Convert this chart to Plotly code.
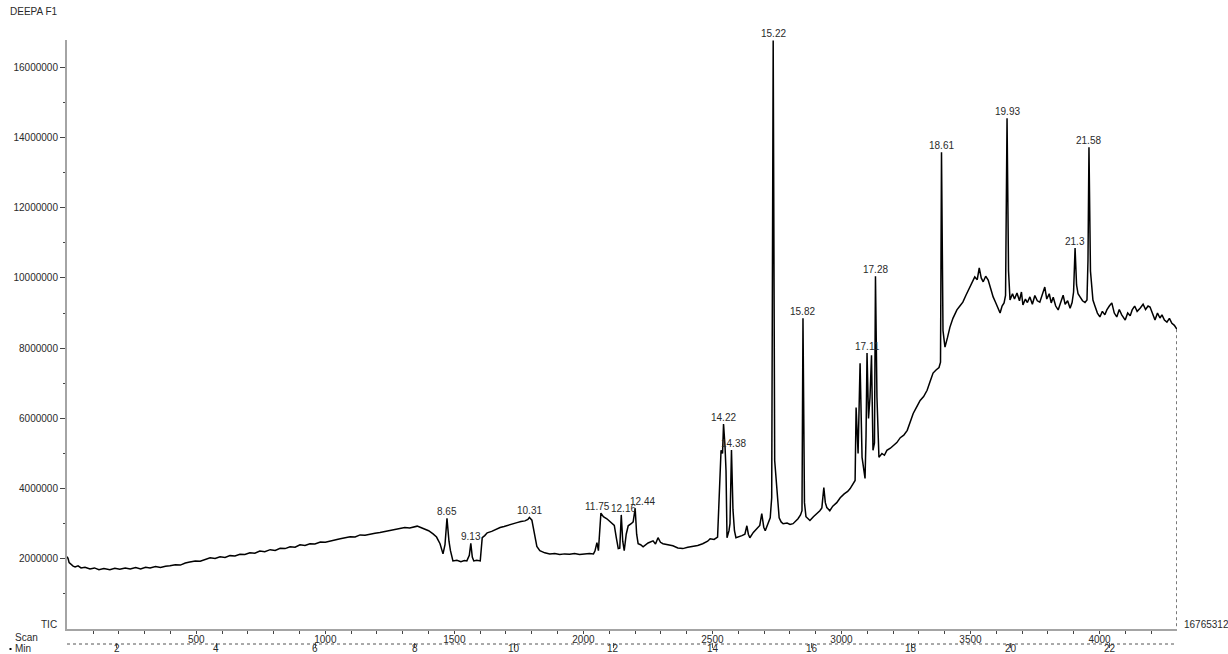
import plotly.graph_objects as go

# Total ion chromatogram of sample DEEPA F1
# retention time (min) and TIC abundance (millions of counts)
ret_time_min = [
    1.00, 1.02, 1.04, 1.08, 1.12, 1.16, 1.22, 1.28, 1.36, 1.46, 1.55, 1.64, 1.74, 1.86, 1.96, 2.06,
    2.17, 2.27, 2.38, 2.48, 2.58, 2.67, 2.78, 2.88, 2.98, 3.07, 3.18, 3.28, 3.38, 3.47, 3.58, 3.68,
    3.78, 3.88, 3.98, 4.08, 4.18, 4.28, 4.38, 4.48, 4.58, 4.68, 4.78, 4.88, 4.98, 5.09, 5.19, 5.29,
    5.39, 5.49, 5.59, 5.69, 5.79, 5.89, 5.99, 6.10, 6.20, 6.30, 6.40, 6.50, 6.60, 6.70, 6.80, 6.90,
    7.00, 7.10, 7.20, 7.30, 7.40, 7.50, 7.60, 7.70, 7.80, 7.90, 7.97, 8.05, 8.11, 8.20, 8.28, 8.37,
    8.44, 8.51, 8.57, 8.61, 8.65, 8.69, 8.72, 8.77, 8.85, 8.93, 9.00, 9.05, 9.10, 9.13, 9.16, 9.19,
    9.25, 9.32, 9.36, 9.41, 9.46, 9.55, 9.63, 9.72, 9.80, 9.88, 9.98, 10.06, 10.14, 10.22, 10.28, 10.31,
    10.36, 10.42, 10.46, 10.52, 10.62, 10.72, 10.82, 10.92, 11.02, 11.12, 11.22, 11.32, 11.42, 11.52, 11.60, 11.63,
    11.67, 11.70, 11.75, 11.80, 11.87, 11.93, 11.97, 12.02, 12.06, 12.10, 12.13, 12.16, 12.19, 12.22, 12.26, 12.30,
    12.36, 12.40, 12.44, 12.47, 12.50, 12.55, 12.60, 12.70, 12.80, 12.85, 12.90, 12.95, 13.00, 13.10, 13.20, 13.30,
    13.40, 13.50, 13.61, 13.70, 13.80, 13.90, 13.95, 14.03, 14.10, 14.13, 14.17, 14.20, 14.22, 14.25, 14.27, 14.29,
    14.33, 14.35, 14.38, 14.41, 14.44, 14.47, 14.53, 14.59, 14.65, 14.69, 14.72, 14.75, 14.82, 14.89, 14.95, 14.99,
    15.03, 15.06, 15.12, 15.16, 15.19, 15.22, 15.25, 15.30, 15.34, 15.38, 15.42, 15.50, 15.56, 15.62, 15.68, 15.72,
    15.77, 15.80, 15.82, 15.85, 15.88, 15.92, 15.96, 16.03, 16.10, 16.16, 16.20, 16.24, 16.27, 16.30, 16.36, 16.42,
    16.50, 16.57, 16.65, 16.72, 16.77, 16.82, 16.87, 16.89, 16.93, 16.97, 17.01, 17.07, 17.09, 17.11, 17.14, 17.17,
    17.20, 17.23, 17.26, 17.28, 17.31, 17.35, 17.41, 17.46, 17.51, 17.58, 17.64, 17.71, 17.78, 17.85, 17.92, 17.98,
    18.04, 18.10, 18.18, 18.25, 18.32, 18.38, 18.44, 18.50, 18.56, 18.59, 18.61, 18.64, 18.68, 18.73, 18.78, 18.84,
    18.92, 18.98, 19.04, 19.10, 19.18, 19.23, 19.28, 19.33, 19.37, 19.41, 19.45, 19.50, 19.55, 19.60, 19.65, 19.70,
    19.75, 19.79, 19.83, 19.87, 19.90, 19.93, 19.96, 19.99, 20.04, 20.08, 20.13, 20.18, 20.22, 20.25, 20.30, 20.34,
    20.39, 20.44, 20.49, 20.54, 20.59, 20.64, 20.69, 20.73, 20.78, 20.82, 20.86, 20.91, 20.96, 21.01, 21.06, 21.10,
    21.15, 21.20, 21.24, 21.27, 21.30, 21.33, 21.36, 21.40, 21.45, 21.50, 21.54, 21.56, 21.58, 21.61, 21.66, 21.70,
    21.75, 21.80, 21.85, 21.90, 21.94, 21.99, 22.04, 22.09, 22.14, 22.19, 22.24, 22.31, 22.36, 22.41, 22.45, 22.50,
    22.55, 22.61, 22.67, 22.72, 22.77, 22.81, 22.86, 22.91, 22.96, 23.01, 23.05, 23.10, 23.15, 23.20, 23.25, 23.30,
    23.35,
]
tic_millions = [
    2.06, 2.00, 1.89, 1.83, 1.79, 1.77, 1.80, 1.74, 1.76, 1.71, 1.74, 1.69, 1.72, 1.69, 1.73, 1.70,
    1.74, 1.71, 1.75, 1.71, 1.76, 1.74, 1.78, 1.75, 1.79, 1.80, 1.83, 1.82, 1.88, 1.91, 1.94, 1.93,
    1.99, 2.03, 2.01, 2.06, 2.04, 2.09, 2.08, 2.13, 2.12, 2.17, 2.16, 2.22, 2.20, 2.26, 2.24, 2.30,
    2.29, 2.34, 2.33, 2.40, 2.38, 2.43, 2.42, 2.48, 2.47, 2.51, 2.55, 2.57, 2.60, 2.63, 2.62, 2.68,
    2.67, 2.71, 2.73, 2.75, 2.78, 2.80, 2.83, 2.86, 2.89, 2.88, 2.91, 2.93, 2.90, 2.84, 2.80, 2.71,
    2.62, 2.43, 2.14, 2.40, 3.15, 2.50, 2.23, 1.94, 1.96, 1.92, 1.95, 1.94, 2.10, 2.44, 2.05, 1.94,
    1.96, 1.94, 2.60, 2.66, 2.74, 2.78, 2.84, 2.89, 2.92, 2.96, 3.00, 3.03, 3.06, 3.08, 3.12, 3.18,
    3.10, 2.60, 2.35, 2.23, 2.17, 2.14, 2.15, 2.12, 2.14, 2.13, 2.15, 2.12, 2.14, 2.15, 2.14, 2.22,
    2.46, 2.23, 3.30, 3.20, 3.14, 3.06, 3.03, 2.95, 2.60, 2.29, 2.30, 3.25, 2.50, 2.23, 2.70, 2.94,
    3.00, 3.05, 3.44, 2.70, 2.43, 2.40, 2.34, 2.45, 2.51, 2.42, 2.60, 2.47, 2.43, 2.40, 2.37, 2.31,
    2.29, 2.33, 2.35, 2.38, 2.43, 2.50, 2.57, 2.55, 2.62, 3.57, 5.09, 5.00, 5.84, 5.20, 4.51, 2.60,
    2.80, 3.00, 5.10, 3.40, 2.80, 2.60, 2.62, 2.66, 2.70, 2.94, 2.70, 2.60, 2.75, 2.86, 2.95, 3.29,
    2.90, 2.80, 3.00, 3.17, 3.74, 16.765312, 4.80, 3.94, 3.17, 3.05, 3.00, 3.02, 2.98, 3.00, 3.08, 3.14,
    3.25, 3.37, 8.85, 3.60, 3.20, 3.15, 3.09, 3.20, 3.28, 3.37, 3.45, 4.03, 3.60, 3.46, 3.37, 3.50,
    3.60, 3.74, 3.85, 3.92, 4.00, 4.10, 4.23, 6.31, 5.00, 7.57, 4.89, 4.29, 5.50, 7.86, 6.00, 6.60,
    7.80, 5.09, 5.30, 10.05, 6.60, 4.89, 5.00, 4.95, 5.09, 5.15, 5.22, 5.31, 5.45, 5.52, 5.66, 5.90,
    6.14, 6.30, 6.51, 6.62, 6.80, 7.05, 7.29, 7.38, 7.45, 7.60, 13.58, 8.50, 8.03, 8.30, 8.60, 8.85,
    9.09, 9.20, 9.31, 9.50, 9.74, 9.85, 10.03, 9.95, 10.29, 10.00, 9.89, 10.05, 9.94, 9.70, 9.46, 9.30,
    9.10, 9.00, 9.20, 9.29, 9.50, 14.55, 10.20, 9.37, 9.55, 9.40, 9.57, 9.35, 9.60, 9.23, 9.40, 9.30,
    9.46, 9.25, 9.50, 9.35, 9.31, 9.55, 9.74, 9.40, 9.55, 9.29, 9.45, 9.20, 9.09, 9.30, 9.51, 9.25,
    9.35, 9.14, 9.30, 9.60, 10.85, 9.80, 9.55, 9.46, 9.35, 9.30, 9.37, 10.50, 13.72, 10.20, 9.37, 9.20,
    9.00, 8.89, 9.05, 8.95, 9.09, 9.20, 9.29, 9.00, 8.89, 9.10, 8.95, 8.80, 9.00, 8.92, 9.09, 9.20,
    9.05, 9.14, 9.25, 9.10, 9.20, 9.17, 9.00, 8.80, 9.00, 8.86, 8.95, 8.80, 8.74, 8.85, 8.71, 8.65,
    8.54,
]

# labelled peaks: retention time (min) and apex abundance (millions)
peak_labels = ["8.65", "9.13", "10.31", "11.75", "12.16", "12.44", "14.22", "14.38", "15.22",
               "15.82", "17.11", "17.28", "18.61", "19.93", "21.3", "21.58"]
peak_time_min = [8.65, 9.13, 10.31, 11.75, 12.16, 12.44, 14.22, 14.38, 15.22,
                 15.82, 17.11, 17.28, 18.61, 19.93, 21.30, 21.58]
peak_apex_millions = [3.15, 2.44, 3.18, 3.30, 3.25, 3.44, 5.84, 5.10, 16.765312,
                      8.85, 7.86, 10.05, 13.58, 14.55, 10.85, 13.72]
# small horizontal nudges (px) for the crowded labels around 12 min
peak_label_dx = [0, 0, 0, -3, 2, 7, 0, 2, 0, 0, 0, 0, 0, 0, 0, 0]

sample_name = "DEEPA F1"
max_abundance = 16765312
y_tick_values = [2000000, 4000000, 6000000, 8000000, 10000000, 12000000, 14000000, 16000000]
scan_tick_values = [500, 1000, 1500, 2000, 2500, 3000, 3500, 4000]
min_tick_values = [2, 4, 6, 8, 10, 12, 14, 16, 18, 20, 22]

# scan number <-> retention time relation of the acquisition
SCANS_PER_MIN = 192.4
SCAN_ZERO_MIN = 1.0025

tic = [v * 1e6 for v in tic_millions]
peak_apex = [v * 1e6 for v in peak_apex_millions]

W, H = 1228, 654
ML, MR, MT, MB = 67, 51, 40, 0
PW = W - ML - MR
PH = H - MT - MB


def px_x(px):
    return (px - ML) / PW


def px_y(py):
    return (H - MB - py) / PH


FONT = "Liberation Sans, Arial, sans-serif"
TXT = "#2a2a2a"
AXIS_GREY = "#a4a4a4"

t_lo, t_hi = 0.997, 23.353
scan_lo = (t_lo - SCAN_ZERO_MIN) * SCANS_PER_MIN
scan_hi = (t_hi - SCAN_ZERO_MIN) * SCANS_PER_MIN

fig = go.Figure()

fig.add_trace(go.Scatter(
    x=ret_time_min, y=tic, mode="lines",
    line=dict(color="black", width=1.5),
    hoverinfo="skip", showlegend=False,
))

# dotted drop line closing the trace at the end of the run
fig.add_trace(go.Scatter(
    x=[ret_time_min[-1], ret_time_min[-1]], y=[tic[-1], 0], mode="lines",
    line=dict(color="#333", width=1, dash="dot"),
    hoverinfo="skip", showlegend=False,
))

# empty carrier so the scan-number scale is laid out
fig.add_trace(go.Scatter(
    x=[scan_lo, scan_hi], y=[None, None], xaxis="x2", yaxis="y",
    mode="lines", hoverinfo="skip", showlegend=False,
))

for lab, t, a, dx in zip(peak_labels, peak_time_min, peak_apex, peak_label_dx):
    fig.add_annotation(
        x=t, y=a, xref="x", yref="y", text=lab, showarrow=False,
        yanchor="bottom", xanchor="center", xshift=dx, yshift=-1,
        font=dict(family=FONT, size=10, color=TXT),
    )

bottom_y = px_y(629)
min_line_y = px_y(644)
min_axis_y = px_y(642)

fig.update_layout(
    width=W, height=H,
    margin=dict(l=ML, r=MR, t=MT, b=MB, pad=0, autoexpand=False),
    paper_bgcolor="white", plot_bgcolor="white",
    font=dict(family=FONT, size=10, color=TXT),
    showlegend=False,
    xaxis=dict(
        range=[t_lo, t_hi], anchor="free", position=min_axis_y, automargin=False,
        showline=False, showgrid=False, zeroline=False,
        tickmode="array", tickvals=min_tick_values,
        ticks="outside", ticklen=5, tickwidth=1, tickcolor="#555",
        showticklabels=False,
    ),
    xaxis2=dict(
        range=[scan_lo, scan_hi], overlaying="x", anchor="y", side="bottom",
        automargin=False,
        showline=True, linecolor=AXIS_GREY, linewidth=2,
        showgrid=False, zeroline=False,
        tickmode="array", tickvals=scan_tick_values,
        ticktext=[str(v) for v in scan_tick_values],
        ticks="outside", ticklen=3, tickwidth=1, tickcolor="#444",
        minor=dict(tickmode="array", tickvals=list(range(100, 4300, 100)),
                   ticks="outside", ticklen=3, tickwidth=1, tickcolor="#444"),
        tickfont=dict(family=FONT, size=10, color=TXT),
        ticklabelstandoff=-3,
    ),
    yaxis=dict(
        range=[0, max_abundance * 1.0008], domain=[bottom_y, 1], automargin=False,
        showline=True, linecolor=AXIS_GREY, linewidth=2,
        showgrid=False, zeroline=False,
        tickmode="array", tickvals=y_tick_values,
        ticktext=[str(v) for v in y_tick_values],
        ticks="outside", ticklen=5, tickwidth=1, tickcolor="#444",
        minor=dict(tickmode="array", tickvals=[1000000 + 2000000 * k for k in range(8)],
                   ticks="outside", ticklen=2, tickwidth=1, tickcolor="#444"),
        tickfont=dict(family=FONT, size=10, color=TXT),
    ),
)

# minute labels sit just under the dotted minutes scale
for m in min_tick_values:
    fig.add_annotation(
        x=m, y=px_y(648.5), xref="x", yref="paper", text=str(m), showarrow=False,
        xanchor="center", yanchor="middle",
        font=dict(family=FONT, size=10, color=TXT),
    )

# dotted baseline of the minutes scale
fig.add_shape(type="line", xref="paper", yref="paper",
              x0=0, x1=1, y0=min_line_y, y1=min_line_y,
              line=dict(color="#555", width=1, dash="dot"))
# small bullet in front of the "Min" caption
fig.add_shape(type="rect", xref="paper", yref="paper",
              x0=px_x(9.5), x1=px_x(11.5), y0=px_y(650), y1=px_y(648),
              line=dict(width=0), fillcolor="black")

captions = [
    (sample_name, 8, 12, "left"),
    ("TIC", 39, 624, "left"),
    ("Scan", 13, 637, "left"),
    ("Min", 13, 648, "left"),
    (str(max_abundance), 1182, 624, "left"),
]
for text, px, py, anchor in captions:
    fig.add_annotation(
        x=px_x(px), y=px_y(py), xref="paper", yref="paper", text=text,
        showarrow=False, xanchor=anchor, yanchor="middle",
        font=dict(family=FONT, size=10, color=TXT),
    )

fig.write_html("out.html")
